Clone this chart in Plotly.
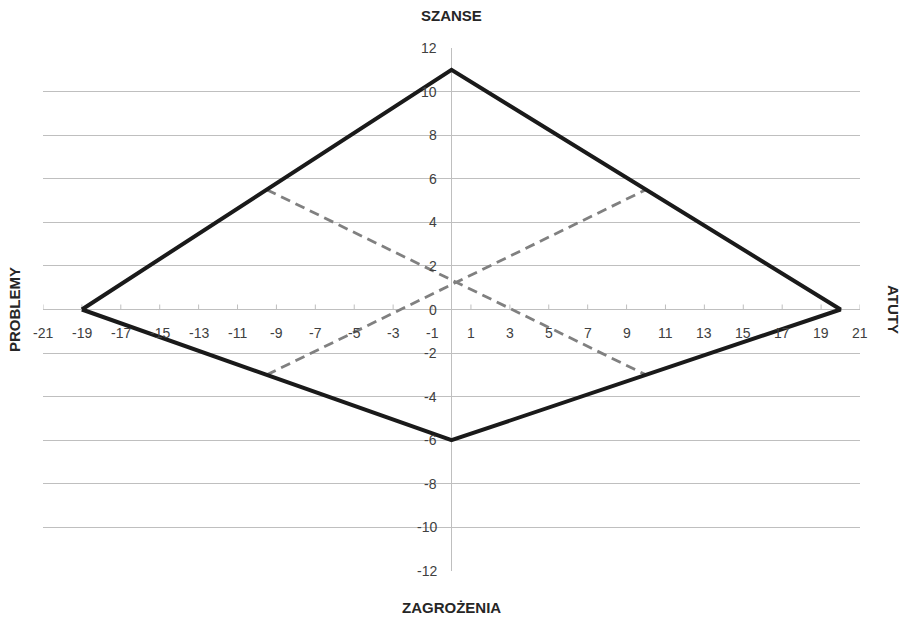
import plotly.graph_objects as go

# Data
diamond_x = [-19, 0, 20, 0, -19]
diamond_y = [0, 11, 0, -6, 0]
dash1_x = [-9.5, 10]
dash1_y = [5.5, -3]
dash2_x = [-9.5, 10]
dash2_y = [-3, 5.5]
x_ticks = [-21, -19, -17, -15, -13, -11, -9, -7, -5, -3, -1, 1, 3, 5, 7, 9, 11, 13, 15, 17, 19, 21]
y_ticks = [-12, -10, -8, -6, -4, -2, 0, 2, 4, 6, 8, 10, 12]
title_top = "SZANSE"
title_bottom = "ZAGROŻENIA"
title_left = "PROBLEMY"
title_right = "ATUTY"

FONT = "Liberation Sans"
TXT = "#404040"
GRID = "#bfbfbf"

fig = go.Figure()
fig.add_trace(go.Scatter(x=dash1_x, y=dash1_y, mode="lines",
                         line=dict(color="#808080", width=2.8, dash="10px,6px"), hoverinfo="skip"))
fig.add_trace(go.Scatter(x=dash2_x, y=dash2_y, mode="lines",
                         line=dict(color="#808080", width=2.8, dash="10px,6px"), hoverinfo="skip"))
fig.add_trace(go.Scatter(x=diamond_x, y=diamond_y, mode="lines",
                         line=dict(color="#1a1a1a", width=4), hoverinfo="skip"))

annotations = []
shapes = []
for t in x_ticks:
    annotations.append(dict(x=t, y=0, xref="x", yref="y", text=str(t), showarrow=False,
                            yanchor="top", yshift=-13, font=dict(family=FONT, size=14, color=TXT)))
    shapes.append(dict(type="line", xref="x", yref="y", x0=t, x1=t, ysizemode="pixel",
                       yanchor=0, y0=0, y1=5, line=dict(color=GRID, width=1), layer="below"))
for t in y_ticks:
    annotations.append(dict(x=0, y=t, xref="x", yref="y", text=str(t), showarrow=False,
                            xanchor="right", xshift=-13, font=dict(family=FONT, size=14, color=TXT)))

tfont = dict(family=FONT, size=15, color="#262626")
annotations += [
    dict(x=0.5, y=1, xref="paper", yref="paper", text="<b>%s</b>" % title_top, showarrow=False,
         yanchor="bottom", yshift=22, font=tfont),
    dict(x=0.5, y=0, xref="paper", yref="paper", text="<b>%s</b>" % title_bottom, showarrow=False,
         yanchor="top", yshift=-26, font=tfont),
    dict(x=0, y=0.5, xref="paper", yref="paper", text="<b>%s</b>" % title_left, showarrow=False,
         textangle=-90, xanchor="right", xshift=-18, font=tfont),
    dict(x=1, y=0.5, xref="paper", yref="paper", text="<b>%s</b>" % title_right, showarrow=False,
         textangle=90, xanchor="left", xshift=23, font=tfont),
]

fig.update_layout(
    width=903, height=617,
    margin=dict(l=43, r=43, t=48, b=46),
    plot_bgcolor="white", paper_bgcolor="white",
    showlegend=False,
    xaxis=dict(range=[-21, 21], showgrid=False, zeroline=True, zerolinecolor=GRID, zerolinewidth=1,
               showticklabels=False, ticks="", showline=False, fixedrange=True),
    yaxis=dict(range=[-12, 12], tickvals=y_ticks, showgrid=True, gridcolor=GRID, gridwidth=1,
               zeroline=True, zerolinecolor=GRID, zerolinewidth=1,
               showticklabels=False, ticks="", showline=False, fixedrange=True),
    shapes=shapes,
    annotations=annotations,
)
fig.write_html("out.html", config={"displayModeBar": False},
               post_script="document.body.style.margin='0';document.body.style.overflow='hidden';")
